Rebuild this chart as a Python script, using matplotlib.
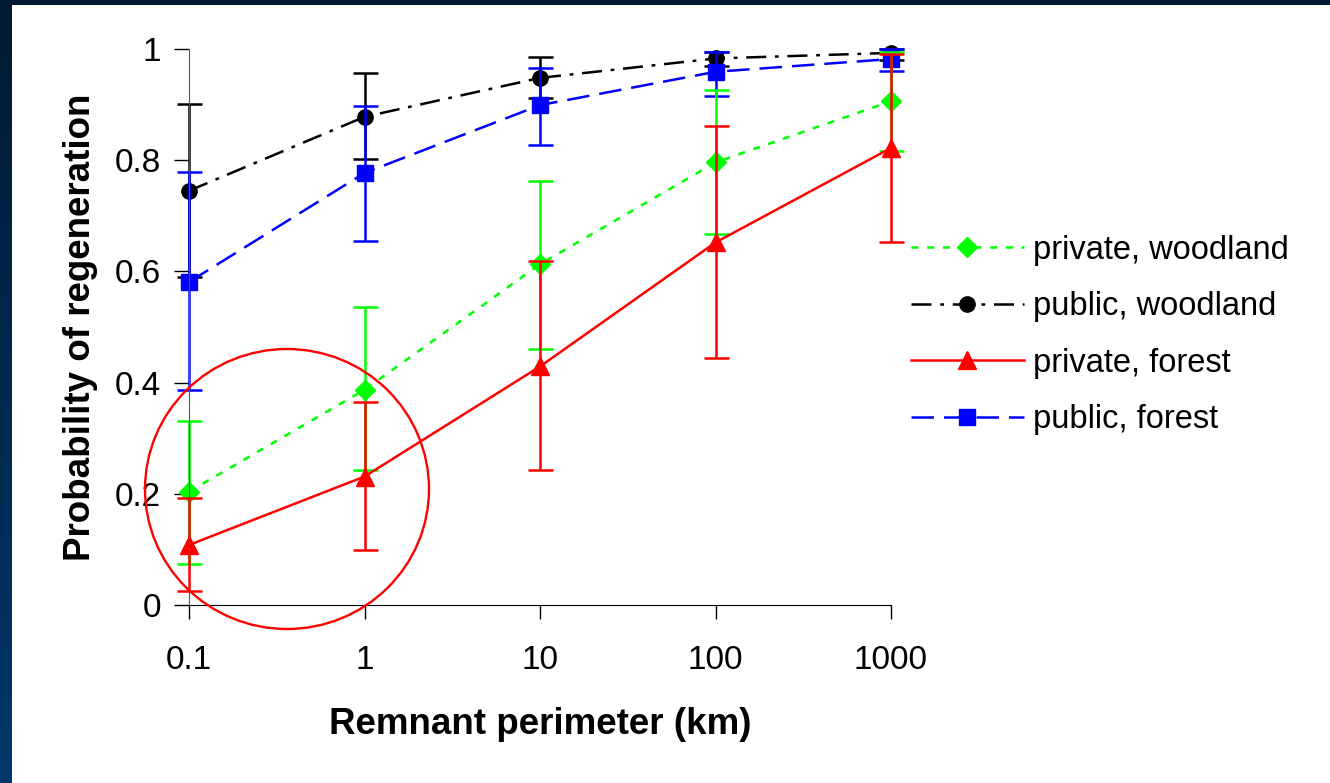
"""Probability of regeneration vs remnant perimeter."""
import matplotlib.pyplot as plt
import numpy as np
from matplotlib.colors import LinearSegmentedColormap
from matplotlib.patches import Ellipse, Rectangle

plt.rcParams["font.family"] = ["Liberation Sans", "DejaVu Sans"]

perimeter = [0.1, 1, 10, 100, 1000]
tick_labels = ["0.1", "1", "10", "100", "1000"]

priv_wood = [0.204, 0.387, 0.613, 0.796, 0.906]
priv_wood_lo = [0.074, 0.243, 0.460, 0.668, 0.817]
priv_wood_hi = [0.331, 0.536, 0.763, 0.926, 0.995]

pub_wood = [0.745, 0.878, 0.948, 0.983, 0.993]
pub_wood_lo = [0.590, 0.803, 0.912, 0.970, 0.980]
pub_wood_hi = [0.901, 0.956, 0.986, 0.995, 1.000]

priv_for = [0.108, 0.231, 0.429, 0.652, 0.822]
priv_for_lo = [0.025, 0.099, 0.243, 0.445, 0.653]
priv_for_hi = [0.193, 0.366, 0.619, 0.861, 0.991]

pub_for = [0.581, 0.777, 0.899, 0.959, 0.982]
pub_for_lo = [0.387, 0.655, 0.827, 0.916, 0.961]
pub_for_hi = [0.778, 0.897, 0.966, 0.995, 1.000]

W, H = 1330, 783
fig = plt.figure(figsize=(W / 100, H / 100), dpi=100)
fig.patch.set_facecolor("#001a33")

# dark frame: gradient strip on the left, white panel for the chart
strip = fig.add_axes([0, 0, 12 / W, 1], zorder=-3)
grad = np.linspace(0, 1, 256).reshape(-1, 1)
strip.imshow(grad, aspect="auto", origin="lower",
             cmap=LinearSegmentedColormap.from_list("navy", ["#00376b", "#001a33"]))
strip.axis("off")
fig.patches.append(Rectangle((12 / W, 0), 1, 1 - 5 / H, transform=fig.transFigure,
                             facecolor="white", edgecolor="none", zorder=-2))

ax = fig.add_axes([189 / W, 1 - 605 / H, (891 - 189) / W, (605 - 49) / H])
ax.set_facecolor("none")


def draw(y, lo, hi, color, marker, ms, ls, label):
    y = np.array(y)
    err = [y - np.array(lo), np.array(hi) - y]
    ax.errorbar(perimeter, y, yerr=err, color=color, ecolor=color, lw=0, elinewidth=1.8,
                capsize=9, capthick=1.8, marker="none", clip_on=False)
    ax.plot(perimeter, y, color=color, ls=ls, lw=1.8, marker=marker, ms=ms,
            label=label, clip_on=False)


draw(pub_wood, pub_wood_lo, pub_wood_hi, "black", "o", 11, (0, (8, 3.5, 1.5, 3.5)), "public, woodland")
draw(pub_for, pub_for_lo, pub_for_hi, "#0000ff", "s", 11, (0, (9, 4)), "public, forest")
draw(priv_wood, priv_wood_lo, priv_wood_hi, "#00ff00", "D", 10.5, (0, (2.8, 3.5)), "private, woodland")
draw(priv_for, priv_for_lo, priv_for_hi, "#ff0000", "^", 13, "-", "private, forest")

ax.set_xscale("log")
ax.set_xlim(0.1, 1000)
ax.set_ylim(0, 1)
ax.set_xticks(perimeter)
ax.set_xticklabels(tick_labels)
ax.xaxis.set_minor_locator(plt.NullLocator())
ax.set_yticks([0, 0.2, 0.4, 0.6, 0.8, 1])
ax.set_yticklabels(["0", "0.2", "0.4", "0.6", "0.8", "1"])
ax.tick_params(axis="x", length=10, width=1, direction="out", pad=19, labelsize=24)
ax.tick_params(axis="y", length=11, width=1, direction="out", pad=9, labelsize=24)
for s in ["top", "right"]:
    ax.spines[s].set_visible(False)
ax.spines["left"].set_color("#555555")
ax.spines["bottom"].set_color("black")

ax.set_xlabel("Remnant perimeter (km)", fontsize=26.5, fontweight="bold", labelpad=22)
ax.set_ylabel("Probability of regeneration", fontsize=26.5, fontweight="bold", labelpad=12)

handles, labels = ax.get_legend_handles_labels()
order = ["private, woodland", "public, woodland", "private, forest", "public, forest"]
hmap = dict(zip(labels, handles))
fig.legend([hmap[k] for k in order], order, loc="center left",
           bbox_to_anchor=(911 / W, 1 - 335 / H), frameon=False, fontsize=23.5,
           handlelength=3.45, handletextpad=0.28, labelspacing=0.78, borderpad=0,
           borderaxespad=0)

# highlight circle round the two smallest remnants
fig.patches.append(Ellipse((287 / W, 1 - 489 / H), 284 / W, 280 / H, transform=fig.transFigure,
                           fill=False, edgecolor="#ff0000", lw=1.7, zorder=5))

fig.savefig("out.png", dpi=100)
